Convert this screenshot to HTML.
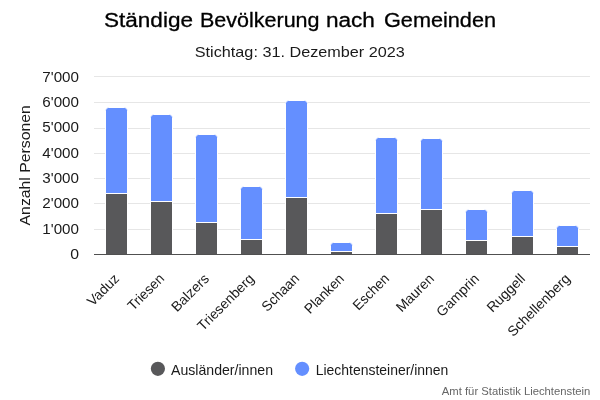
<!DOCTYPE html>
<html lang="de"><head><meta charset="utf-8"><title>Ständige Bevölkerung nach Gemeinden</title>
<style>html,body{margin:0;padding:0;background:#fff}svg{display:block}text{font-family:"Liberation Sans",sans-serif}</style></head><body>
<svg width="600" height="400" viewBox="0 0 600 400">
<rect width="600" height="400" fill="#fff"/>
<rect x="94" y="76" width="496" height="1" fill="#e6e6e6"/>
<rect x="94" y="102" width="496" height="1" fill="#e6e6e6"/>
<rect x="94" y="128" width="496" height="1" fill="#e6e6e6"/>
<rect x="94" y="153" width="496" height="1" fill="#e6e6e6"/>
<rect x="94" y="178" width="496" height="1" fill="#e6e6e6"/>
<rect x="94" y="203" width="496" height="1" fill="#e6e6e6"/>
<rect x="94" y="229" width="496" height="1" fill="#e6e6e6"/>
<clipPath id="c"><rect x="94" y="70" width="496" height="184"/></clipPath><g clip-path="url(#c)">
<path d="M105.5 193.5V110.5A3 3 0 0 1 108.5 107.5H124.5A3 3 0 0 1 127.5 110.5V193.5Z" fill="#648fff" stroke="#fff" stroke-width="1"/>
<rect x="105.5" y="193.5" width="22" height="61.0" fill="#58585a" stroke="#fff" stroke-width="1"/>
<path d="M150.5 201.5V117.5A3 3 0 0 1 153.5 114.5H169.5A3 3 0 0 1 172.5 117.5V201.5Z" fill="#648fff" stroke="#fff" stroke-width="1"/>
<rect x="150.5" y="201.5" width="22" height="53.0" fill="#58585a" stroke="#fff" stroke-width="1"/>
<path d="M195.5 222.5V137.5A3 3 0 0 1 198.5 134.5H214.5A3 3 0 0 1 217.5 137.5V222.5Z" fill="#648fff" stroke="#fff" stroke-width="1"/>
<rect x="195.5" y="222.5" width="22" height="32.0" fill="#58585a" stroke="#fff" stroke-width="1"/>
<path d="M240.5 239.5V189.5A3 3 0 0 1 243.5 186.5H259.5A3 3 0 0 1 262.5 189.5V239.5Z" fill="#648fff" stroke="#fff" stroke-width="1"/>
<rect x="240.5" y="239.5" width="22" height="15.0" fill="#58585a" stroke="#fff" stroke-width="1"/>
<path d="M285.5 197.5V103.5A3 3 0 0 1 288.5 100.5H304.5A3 3 0 0 1 307.5 103.5V197.5Z" fill="#648fff" stroke="#fff" stroke-width="1"/>
<rect x="285.5" y="197.5" width="22" height="57.0" fill="#58585a" stroke="#fff" stroke-width="1"/>
<path d="M330.5 251.5V245.5A3 3 0 0 1 333.5 242.5H349.5A3 3 0 0 1 352.5 245.5V251.5Z" fill="#648fff" stroke="#fff" stroke-width="1"/>
<rect x="330.5" y="251.5" width="22" height="3.0" fill="#58585a" stroke="#fff" stroke-width="1"/>
<path d="M375.5 213.5V140.5A3 3 0 0 1 378.5 137.5H394.5A3 3 0 0 1 397.5 140.5V213.5Z" fill="#648fff" stroke="#fff" stroke-width="1"/>
<rect x="375.5" y="213.5" width="22" height="41.0" fill="#58585a" stroke="#fff" stroke-width="1"/>
<path d="M420.5 209.5V141.5A3 3 0 0 1 423.5 138.5H439.5A3 3 0 0 1 442.5 141.5V209.5Z" fill="#648fff" stroke="#fff" stroke-width="1"/>
<rect x="420.5" y="209.5" width="22" height="45.0" fill="#58585a" stroke="#fff" stroke-width="1"/>
<path d="M465.5 240.5V212.5A3 3 0 0 1 468.5 209.5H484.5A3 3 0 0 1 487.5 212.5V240.5Z" fill="#648fff" stroke="#fff" stroke-width="1"/>
<rect x="465.5" y="240.5" width="22" height="14.0" fill="#58585a" stroke="#fff" stroke-width="1"/>
<path d="M511.5 236.5V193.5A3 3 0 0 1 514.5 190.5H530.5A3 3 0 0 1 533.5 193.5V236.5Z" fill="#648fff" stroke="#fff" stroke-width="1"/>
<rect x="511.5" y="236.5" width="22" height="18.0" fill="#58585a" stroke="#fff" stroke-width="1"/>
<path d="M556.5 246.5V228.5A3 3 0 0 1 559.5 225.5H575.5A3 3 0 0 1 578.5 228.5V246.5Z" fill="#648fff" stroke="#fff" stroke-width="1"/>
<rect x="556.5" y="246.5" width="22" height="8.0" fill="#58585a" stroke="#fff" stroke-width="1"/>
</g>
<rect x="94" y="254" width="496" height="1" fill="#505050"/>
<text y="27" font-size="20" fill="#000" stroke="#000" stroke-width="0.3"><tspan x="104" textLength="89" lengthAdjust="spacingAndGlyphs">Ständige</tspan> <tspan x="200" textLength="119.5" lengthAdjust="spacingAndGlyphs">Bevölkerung</tspan> <tspan x="325.9" textLength="49" lengthAdjust="spacingAndGlyphs">nach</tspan> <tspan x="384" textLength="112" lengthAdjust="spacingAndGlyphs">Gemeinden</tspan></text>
<text x="299.8" y="56.8" text-anchor="middle" font-size="15" fill="#1a1a1a" textLength="210" lengthAdjust="spacingAndGlyphs">Stichtag: 31. Dezember 2023</text>
<text x="79.0" y="81.9" text-anchor="end" font-size="14" fill="#1a1a1a" textLength="36.7" lengthAdjust="spacingAndGlyphs">7'000</text>
<text x="79.0" y="107.19" text-anchor="end" font-size="14" fill="#1a1a1a" textLength="36.7" lengthAdjust="spacingAndGlyphs">6'000</text>
<text x="79.0" y="132.48" text-anchor="end" font-size="14" fill="#1a1a1a" textLength="36.7" lengthAdjust="spacingAndGlyphs">5'000</text>
<text x="79.0" y="157.77" text-anchor="end" font-size="14" fill="#1a1a1a" textLength="36.7" lengthAdjust="spacingAndGlyphs">4'000</text>
<text x="79.0" y="183.06" text-anchor="end" font-size="14" fill="#1a1a1a" textLength="36.7" lengthAdjust="spacingAndGlyphs">3'000</text>
<text x="79.0" y="208.35" text-anchor="end" font-size="14" fill="#1a1a1a" textLength="36.7" lengthAdjust="spacingAndGlyphs">2'000</text>
<text x="79.0" y="233.64" text-anchor="end" font-size="14" fill="#1a1a1a" textLength="36.7" lengthAdjust="spacingAndGlyphs">1'000</text>
<text x="79.0" y="258.93" text-anchor="end" font-size="14" fill="#1a1a1a" textLength="8.8" lengthAdjust="spacingAndGlyphs">0</text>
<text transform="translate(29.8 165.3) rotate(-90)" text-anchor="middle" font-size="15" fill="#1a1a1a" textLength="120.3" lengthAdjust="spacingAndGlyphs">Anzahl Personen</text>
<text transform="translate(120.0 279.5) rotate(-45)" text-anchor="end" font-size="14" fill="#1a1a1a" textLength="38.7" lengthAdjust="spacingAndGlyphs">Vaduz</text>
<text transform="translate(165.0 279.5) rotate(-45)" text-anchor="end" font-size="14" fill="#1a1a1a" textLength="45.0" lengthAdjust="spacingAndGlyphs">Triesen</text>
<text transform="translate(210.0 279.5) rotate(-45)" text-anchor="end" font-size="14" fill="#1a1a1a" textLength="46.7" lengthAdjust="spacingAndGlyphs">Balzers</text>
<text transform="translate(255.0 279.5) rotate(-45)" text-anchor="end" font-size="14" fill="#1a1a1a" textLength="73.4" lengthAdjust="spacingAndGlyphs">Triesenberg</text>
<text transform="translate(300.0 279.5) rotate(-45)" text-anchor="end" font-size="14" fill="#1a1a1a" textLength="46.3" lengthAdjust="spacingAndGlyphs">Schaan</text>
<text transform="translate(345.0 279.5) rotate(-45)" text-anchor="end" font-size="14" fill="#1a1a1a" textLength="49.6" lengthAdjust="spacingAndGlyphs">Planken</text>
<text transform="translate(390.0 279.5) rotate(-45)" text-anchor="end" font-size="14" fill="#1a1a1a" textLength="44.7" lengthAdjust="spacingAndGlyphs">Eschen</text>
<text transform="translate(435.0 279.5) rotate(-45)" text-anchor="end" font-size="14" fill="#1a1a1a" textLength="47.2" lengthAdjust="spacingAndGlyphs">Mauren</text>
<text transform="translate(480.0 279.5) rotate(-45)" text-anchor="end" font-size="14" fill="#1a1a1a" textLength="53.7" lengthAdjust="spacingAndGlyphs">Gamprin</text>
<text transform="translate(526.0 279.5) rotate(-45)" text-anchor="end" font-size="14" fill="#1a1a1a" textLength="47.5" lengthAdjust="spacingAndGlyphs">Ruggell</text>
<text transform="translate(571.0 279.5) rotate(-45)" text-anchor="end" font-size="14" fill="#1a1a1a" textLength="81.7" lengthAdjust="spacingAndGlyphs">Schellenberg</text>
<circle cx="157.9" cy="368.8" r="7.1" fill="#58585a"/>
<text x="171" y="374.8" font-size="15" fill="#1a1a1a" textLength="102.0" lengthAdjust="spacingAndGlyphs">Ausländer/innen</text>
<circle cx="302.15" cy="368.85" r="7.1" fill="#648fff"/>
<text x="315.7" y="374.8" font-size="15" fill="#1a1a1a" textLength="132.7" lengthAdjust="spacingAndGlyphs">Liechtensteiner/innen</text>
<text x="590.4" y="394.7" text-anchor="end" font-size="10.8" fill="#666" textLength="148.6" lengthAdjust="spacingAndGlyphs">Amt für Statistik Liechtenstein</text>
</svg></body></html>
